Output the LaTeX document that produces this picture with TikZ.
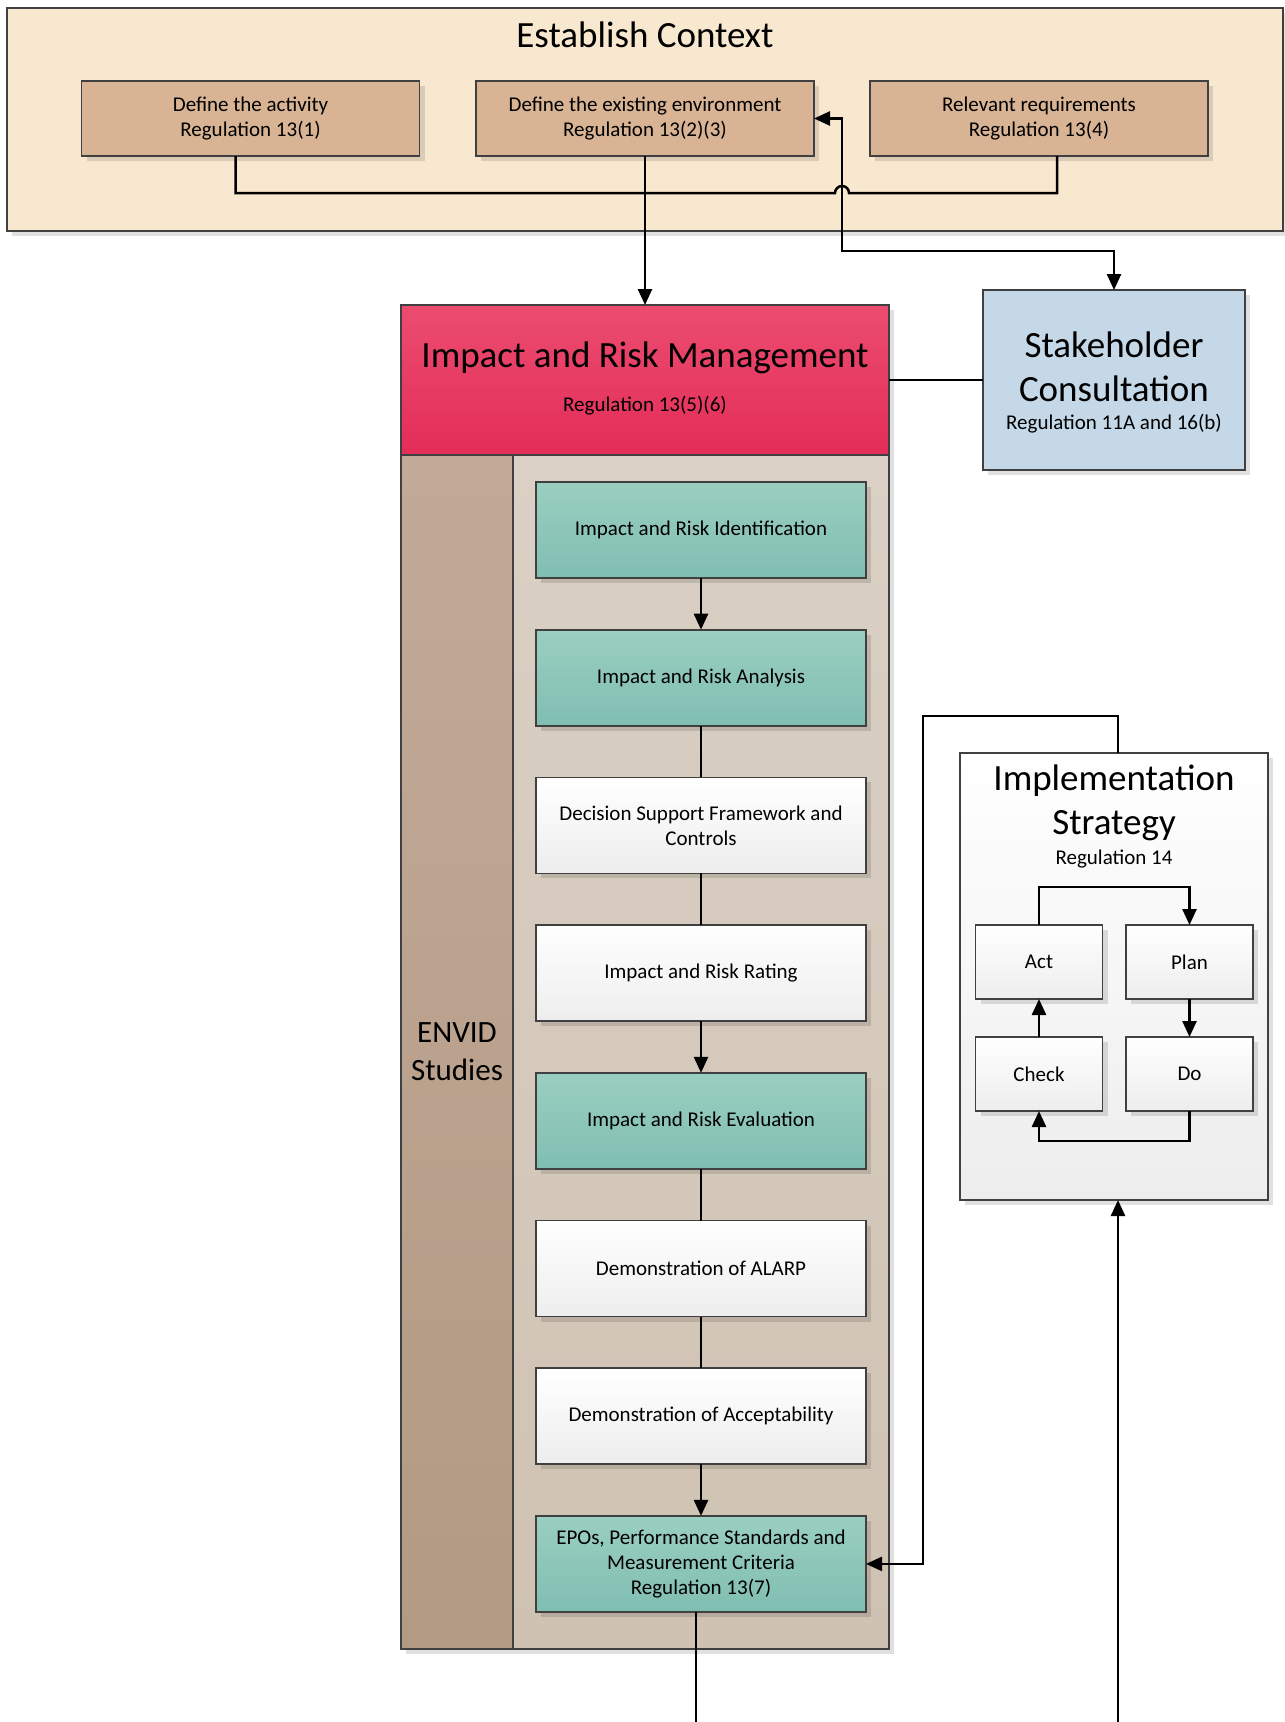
\documentclass[tikz,border=0pt]{standalone}
\usepackage{fontspec}
\setmainfont{Carlito}
\usetikzlibrary{arrows.meta, shadows}
\definecolor{ctxcol}{RGB}{249,232,208}
\definecolor{defcol}{RGB}{216,180,149}
\definecolor{irmtop}{RGB}{236,76,112}
\definecolor{irmbot}{RGB}{227,45,88}
\definecolor{stkcol}{RGB}{196,216,232}
\definecolor{envtop}{RGB}{193,170,152}
\definecolor{envbot}{RGB}{179,154,132}
\definecolor{pantop}{RGB}{218,208,197}
\definecolor{panbot}{RGB}{207,194,178}
\definecolor{tealtop}{RGB}{154,207,192}
\definecolor{tealbot}{RGB}{128,190,178}
\definecolor{edgecol}{RGB}{64,64,64}

\begin{document}
\begin{tikzpicture}[
  x=1pt, y=-1pt,
  box/.style={draw=edgecol, line width=1.6pt, inner sep=0pt, outer sep=0pt,
    align=center, font=\fontsize{21}{25}\selectfont,
    drop shadow={shadow xshift=5pt, shadow yshift=-5pt, fill=black, opacity=0.12}},
  defbox/.style={box, fill=defcol, minimum width=338, minimum height=75},
  stepbox/.style={box, minimum width=330, minimum height=96},
  tealbox/.style={stepbox, top color=tealtop, bottom color=tealbot},
  whitebox/.style={stepbox, top color=white, bottom color=black!7},
  pdcabox/.style={box, top color=white, bottom color=black!7,
    minimum width=127, minimum height=74},
  bigtxt/.style={font=\fontsize{37}{44}\selectfont, align=center},
  regtxt/.style={font=\fontsize{21}{25}\selectfont, align=center},
  conn/.style={line width=2.5pt, black},
  >={Triangle[length=16pt, width=14pt]}
]
  \useasboundingbox (0,0) rectangle (1285,1722);

  \node[box, fill=ctxcol, minimum width=1276, minimum height=223] (ctx)
    at (645,119.5) {};
  \node[font=\fontsize{37}{44}\selectfont] (ctxtitle) at (645,35) {Establish Context};
  \node[defbox] (act) at (250.5,118.5) {Define the activity\\Regulation 13(1)};
  \node[defbox] (env) at (645,118.5)
    {Define the existing environment\\Regulation 13(2)(3)};
  \node[defbox] (req) at (1039,118.5) {Relevant requirements\\Regulation 13(4)};

  \node[box, top color=irmtop, bottom color=irmbot, minimum width=488,
        minimum height=150] (irm) at (645,380) {};
  \node[font=\fontsize{37}{44}\selectfont] (irmtitle) at (645,358)
    {Impact and Risk Management};
  \node[regtxt] (irmreg) at (645,406) {Regulation 13(5)(6)};

  \node[box, fill=stkcol, minimum width=262, minimum height=180] (stake)
    at (1114,380) {};
  \node[bigtxt] (staketitle) at (1114,367) {Stakeholder\\Consultation};
  \node[regtxt] (stakereg) at (1114,424) {Regulation 11A and 16(b)};

  \node[box, top color=envtop, bottom color=envbot, minimum width=112,
        minimum height=1194, font=\fontsize{31}{38}\selectfont] (envid)
    at (457,1052) {ENVID\\Studies};
  \node[box, top color=pantop, bottom color=panbot, minimum width=376,
        minimum height=1194] (panel) at (701,1052) {};

  \foreach \i/\nm/\sty/\txt in {
      0/ident/tealbox/{Impact and Risk Identification},
      1/anal/tealbox/{Impact and Risk Analysis},
      2/dsf/whitebox/{Decision Support Framework and\\Controls},
      3/rate/whitebox/{Impact and Risk Rating},
      4/eval/tealbox/{Impact and Risk Evaluation},
      5/alarp/whitebox/{Demonstration of ALARP},
      6/accept/whitebox/{Demonstration of Acceptability},
      7/epo/tealbox/{EPOs, Performance Standards and\\Measurement Criteria\\Regulation 13(7)}}
    \node[\sty] (\nm) at (701,530+147.7*\i) {\txt};

  \foreach \a/\b/\tip in {ident/anal/->, anal/dsf/-, dsf/rate/-, rate/eval/->,
                          eval/alarp/-, alarp/accept/-, accept/epo/->}
    \draw[conn, \tip] (\a) -- (\b);

  \node[box, top color=white, bottom color=black!7, minimum width=308,
        minimum height=447] (impl) at (1114,976.5) {};
  \node[bigtxt] (impltitle) at (1114,803) {Implementation\\Strategy};
  \node[regtxt] (implreg) at (1114,859) {Regulation 14};
  \node[pdcabox] (pact) at (1039,962) {Act};
  \node[pdcabox] (pplan) at (1189.5,962) {Plan};
  \node[pdcabox] (pcheck) at (1039,1074) {Check};
  \node[pdcabox] (pdo) at (1189.5,1074) {Do};

  \coordinate (hop) at (842,193);
  \coordinate (stkbend) at (842,251);
  \coordinate (loopcnr) at (923,716);
  \coordinate (epoend) at (696,1722);
  \coordinate (feed) at (1118,1722);

  \draw[conn] ([xshift=-15pt]act.south) |- ([xshift=-7pt]hop)
    arc[start angle=180, end angle=360, radius=7] -| ([xshift=18pt]req.south);
  \draw[conn, ->] (env.south) -- (irm.north);
  \draw[conn, <->] (env.east) -| (stkbend) -| (stake.north);
  \draw[conn, line width=1.8pt] (irm.east) -- (stake.west);

  \draw[conn, ->] (pact.north) |- ([yshift=38pt]pplan.north) -- (pplan.north);
  \draw[conn, ->] (pplan) -- (pdo);
  \draw[conn, ->] (pdo.south) |- ([yshift=-30pt]pcheck.south) -- (pcheck.south);
  \draw[conn, ->] (pcheck) -- (pact);

  \draw[conn, ->] ([xshift=4pt]impl.north) |- (loopcnr) |- (epo.east);
  \draw[conn] ([xshift=-5pt]epo.south) -- (epoend);
  \draw[conn, ->] (feed) -- ([xshift=4pt]impl.south);

\end{tikzpicture}
\end{document}
